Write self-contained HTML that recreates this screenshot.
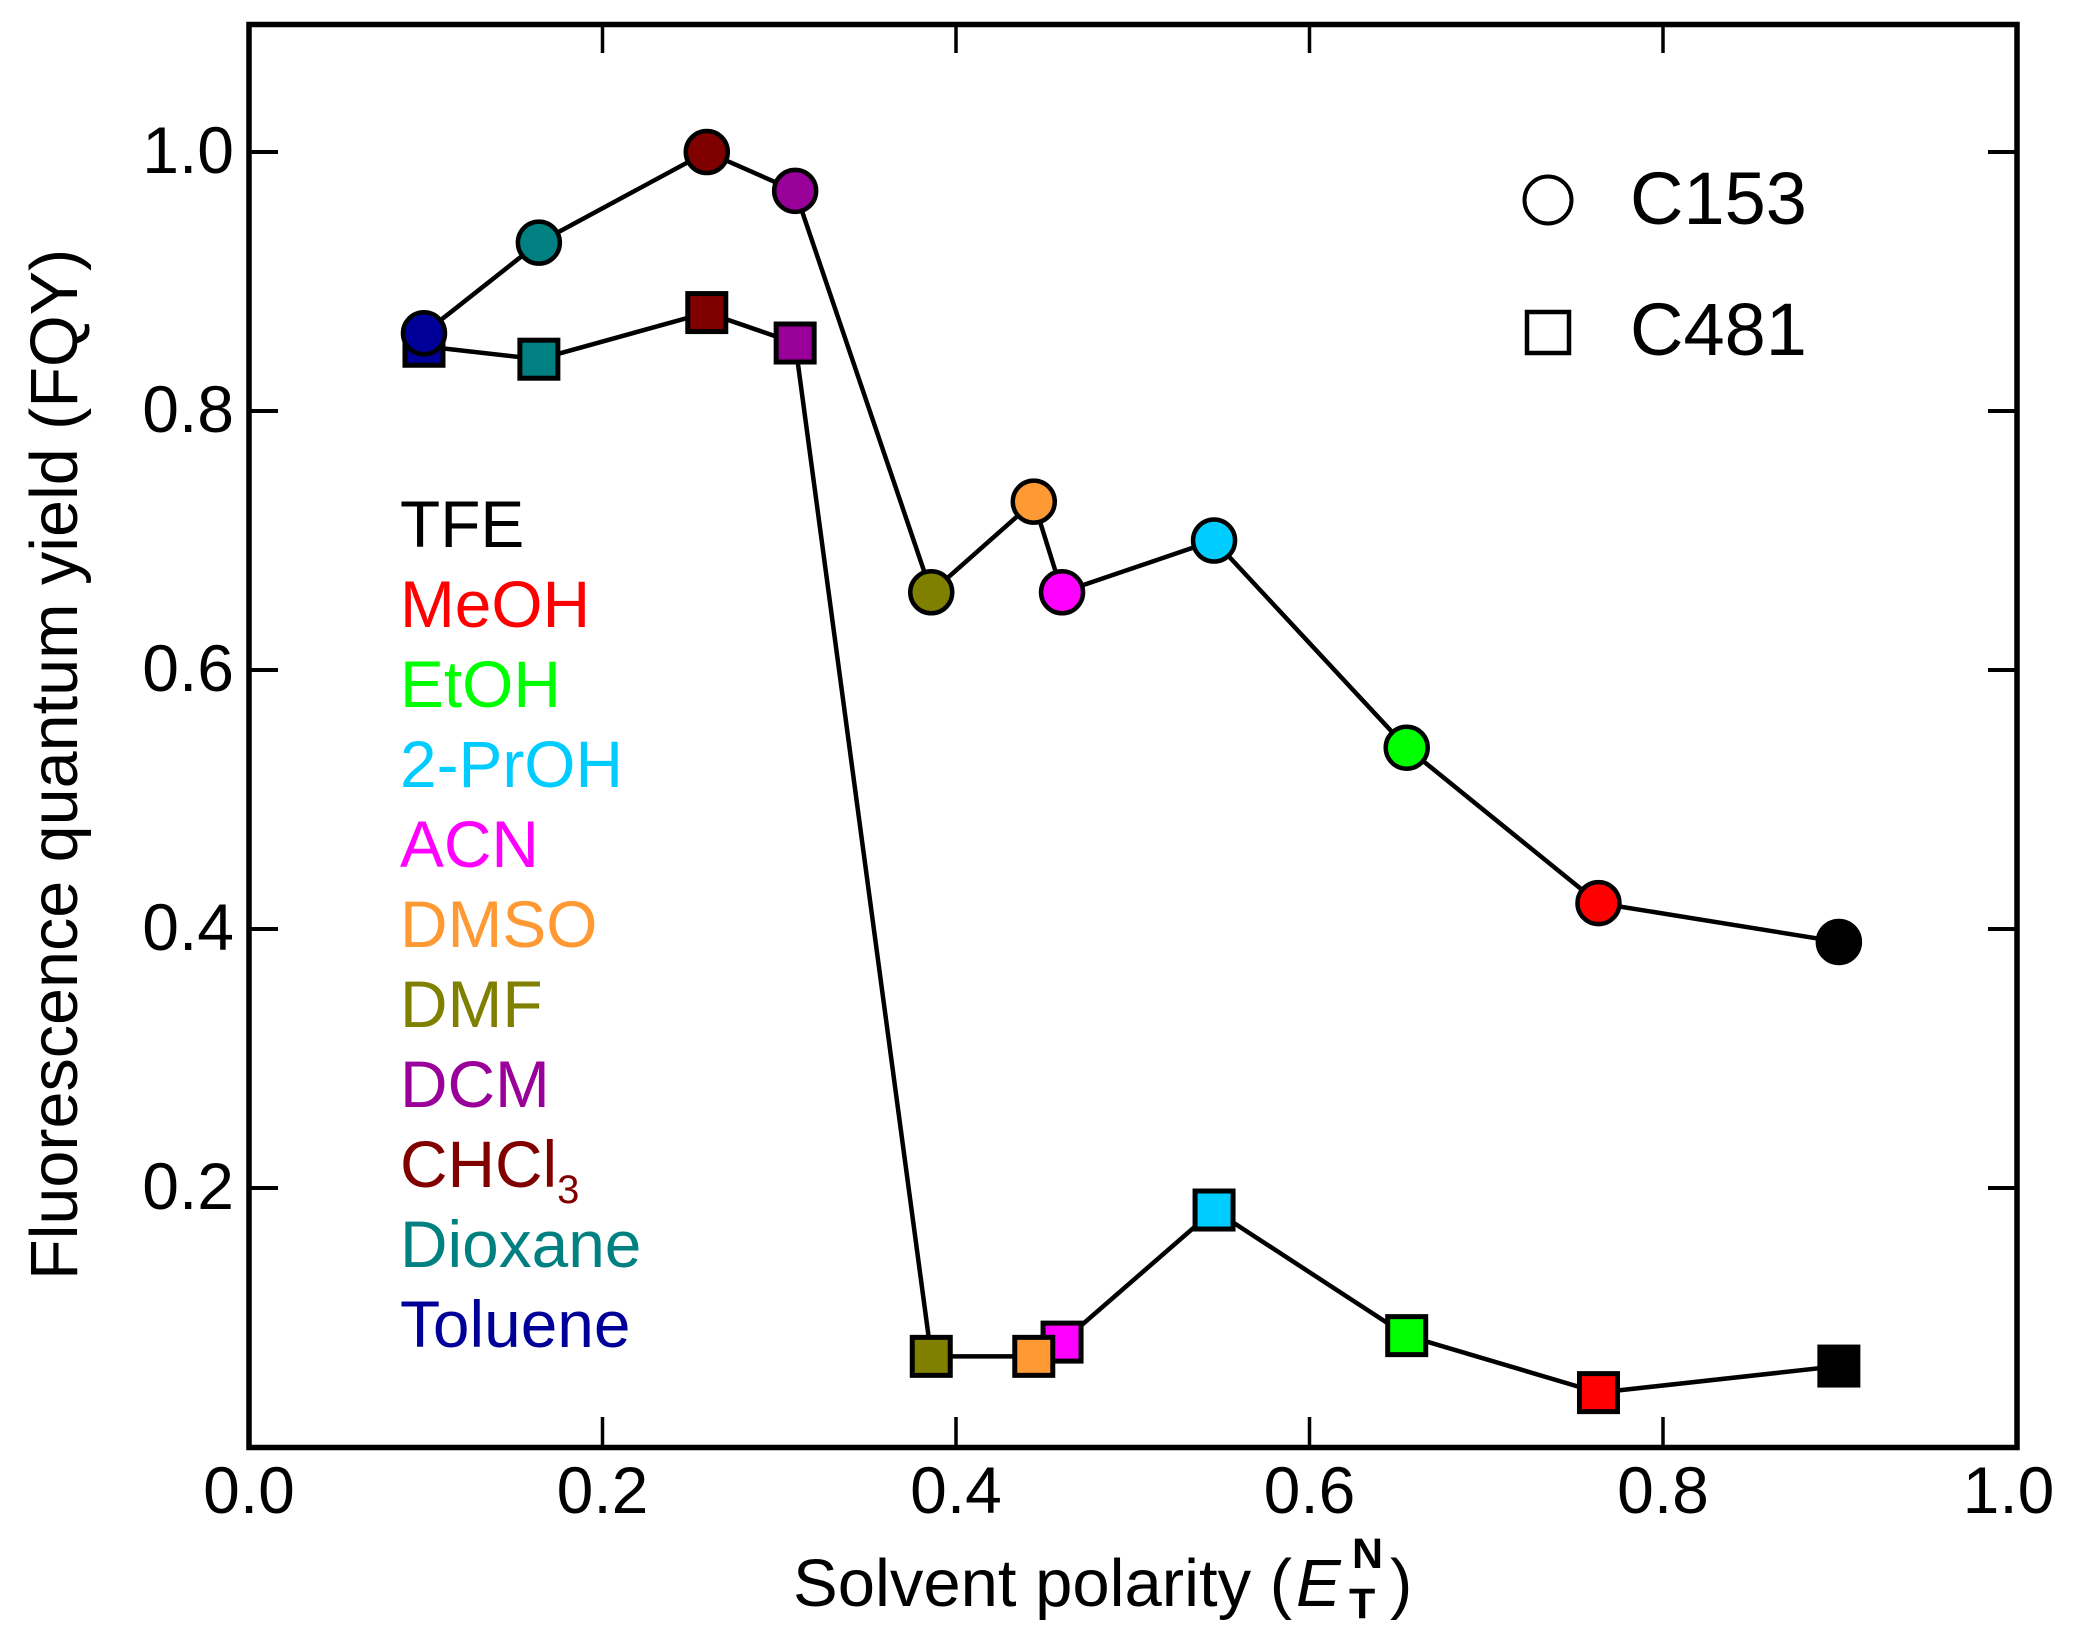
<!DOCTYPE html>
<html lang="en">
<head>
<meta charset="utf-8">
<title>Fluorescence quantum yield vs solvent polarity</title>
<style>
html,body{margin:0;padding:0;background:#fff;width:2075px;height:1650px;overflow:hidden}
svg{display:block;font-family:"Liberation Sans",Arial,sans-serif}
</style>
</head>
<body>
<svg id="chart" xmlns="http://www.w3.org/2000/svg" width="2075" height="1650" viewBox="0 0 2075 1650">
  <rect x="0" y="0" width="2075" height="1650" fill="#ffffff"/>
  <g id="series-layer"></g>
  <g id="tick-layer"></g>
  <rect x="249" y="24.5" width="1768" height="1423" fill="none" stroke="#000" stroke-width="5.5"/>
  <g id="solvent-layer" font-size="65.8"></g>
  <text transform="translate(77 1280) rotate(-90)" font-size="66.5" fill="#000">Fluorescence quantum yield (FQY)</text>
  <g fill="#000">
    <text x="793" y="1606" font-size="67">Solvent polarity (</text>
    <text x="1296" y="1606" font-size="67" font-style="italic">E</text>
    <text x="1352" y="1568" font-size="43" font-weight="bold">N</text>
    <text x="1349" y="1618" font-size="43" font-weight="bold">T</text>
    <text x="1390" y="1606" font-size="67">)</text>
  </g>
  <g>
    <circle cx="1548" cy="200" r="23.5" fill="#fff" stroke="#000" stroke-width="4"/>
    <text x="1630" y="224" font-size="74" fill="#000">C153</text>
    <rect x="1527" y="312" width="42" height="41" fill="#fff" stroke="#000" stroke-width="4.5"/>
    <text x="1630" y="355" font-size="74" fill="#000">C481</text>
  </g>
</svg>
<script>
const solvents = ["TFE", "MeOH", "EtOH", "2-PrOH", "ACN", "DMSO", "DMF", "DCM", "CHCl", "Dioxane", "Toluene"];
const solventColors = ["#000000", "#ff0000", "#00ff00", "#00ccff", "#ff00ff", "#ff9933", "#808000", "#990099", "#800000", "#008080", "#000099"];
const polarity = [0.8995, 0.7635, 0.655, 0.546, 0.460, 0.444, 0.386, 0.309, 0.259, 0.164, 0.099];
const c153 = [0.39, 0.42, 0.54, 0.70, 0.66, 0.73, 0.66, 0.97, 1.00, 0.93, 0.86];
const c481 = [0.0625, 0.042, 0.086, 0.183, 0.081, 0.07, 0.07, 0.8525, 0.876, 0.84, 0.85];
const xTicks = [0, 0.2, 0.4, 0.6, 0.8, 1.0];
const yTicks = [0.2, 0.4, 0.6, 0.8, 1.0];
const xTickLabels = ["0.0", "0.2", "0.4", "0.6", "0.8", "1.0"];
const yTickLabels = ["0.2", "0.4", "0.6", "0.8", "1.0"];

const NS = "http://www.w3.org/2000/svg";
const X0 = 249, X1 = 2016.5, Y0 = 1447, PER_Y = 1295;
function xScale(v) { return X0 + (X1 - X0) * v; }
function yScale(v) { return Y0 - PER_Y * v; }
function make(tag, parent) {
  const el = document.createElementNS(NS, tag);
  parent.appendChild(el);
  return el;
}
const seriesLayer = document.getElementById("series-layer");
const tickLayer = document.getElementById("tick-layer");
const solventLayer = document.getElementById("solvent-layer");

xTicks.forEach(function (t, i) {
  const x = xScale(t);
  if (t > 0 && t < 1) {
    const b = make("line", tickLayer);
    
    
    b.setAttribute("x1", x); b.setAttribute("x2", x);
    b.setAttribute("y1", Y0); b.setAttribute("y2", Y0 - 30);
    b.setAttribute("stroke", "#000"); b.setAttribute("stroke-width", "3.5");
    const a = make("line", tickLayer);
    
    
    a.setAttribute("x1", x); a.setAttribute("x2", x);
    a.setAttribute("y1", 24); a.setAttribute("y2", 53);
    a.setAttribute("stroke", "#000"); a.setAttribute("stroke-width", "3.5");
  }
  const lab = make("text", tickLayer);
  
  
  lab.setAttribute("x", t === 1 ? x - 8 : x);
  lab.setAttribute("y", 1513);
  lab.setAttribute("text-anchor", "middle");
  lab.setAttribute("font-size", "66");
  lab.setAttribute("fill", "#000");
  lab.textContent = xTickLabels[i];
});

yTicks.forEach(function (t, i) {
  const y = yScale(t);
  const l = make("line", tickLayer);
  
  
  l.setAttribute("x1", X0); l.setAttribute("x2", 278);
  l.setAttribute("y1", y); l.setAttribute("y2", y);
  l.setAttribute("stroke", "#000"); l.setAttribute("stroke-width", "4");
  const r = make("line", tickLayer);
  
  
  r.setAttribute("x1", 1988); r.setAttribute("x2", 2017);
  r.setAttribute("y1", y); r.setAttribute("y2", y);
  r.setAttribute("stroke", "#000"); r.setAttribute("stroke-width", "4");
  const lab = make("text", tickLayer);
  
  
  lab.setAttribute("x", 234);
  lab.setAttribute("y", y + 21);
  lab.setAttribute("text-anchor", "end");
  lab.setAttribute("font-size", "66");
  lab.setAttribute("fill", "#000");
  lab.textContent = yTickLabels[i];
});

function pointsFor(values) {
  return polarity.map(function (p, i) { return xScale(p) + "," + yScale(values[i]); }).join(" ");
}
const lineC481 = make("polyline", seriesLayer);


lineC481.setAttribute("points", pointsFor(c481));
lineC481.setAttribute("fill", "none");
lineC481.setAttribute("stroke", "#000");
lineC481.setAttribute("stroke-width", "4.5");

const lineC153 = make("polyline", seriesLayer);


lineC153.setAttribute("points", pointsFor(c153));
lineC153.setAttribute("fill", "none");
lineC153.setAttribute("stroke", "#000");
lineC153.setAttribute("stroke-width", "4.5");

polarity.forEach(function (p, i) {
  const side = 38;
  const sq = make("rect", seriesLayer);
  
  
  sq.setAttribute("x", xScale(p) - side / 2);
  sq.setAttribute("y", yScale(c481[i]) - side / 2);
  sq.setAttribute("width", side);
  sq.setAttribute("height", side);
  sq.setAttribute("fill", solventColors[i]);
  sq.setAttribute("stroke", "#000");
  sq.setAttribute("stroke-width", "5");
});
polarity.forEach(function (p, i) {
  const c = make("circle", seriesLayer);
  
  
  c.setAttribute("cx", xScale(p));
  c.setAttribute("cy", yScale(c153[i]));
  c.setAttribute("r", "21");
  c.setAttribute("fill", solventColors[i]);
  c.setAttribute("stroke", "#000");
  c.setAttribute("stroke-width", "4.5");
});

solvents.forEach(function (name, i) {
  const baseline = 547 + 80 * i;
  const t = make("text", solventLayer);
  
  
  t.setAttribute("x", 400);
  t.setAttribute("y", baseline);
  t.setAttribute("fill", solventColors[i]);
  t.textContent = name;
  if (name === "CHCl") {
    const s = make("tspan", t);
    
    
    s.setAttribute("font-size", "40");
    s.setAttribute("dy", "16");
    s.textContent = "3";
  }
});
</script>
</body>
</html>
